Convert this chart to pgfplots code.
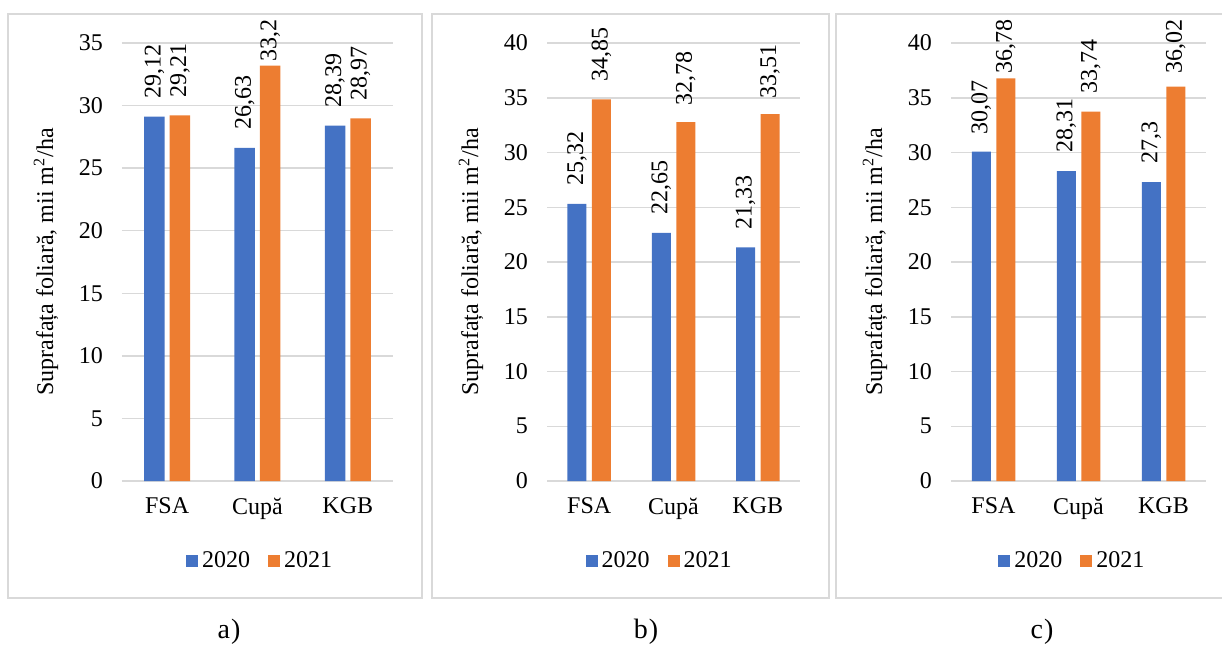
\documentclass[border=0pt]{standalone}
\usepackage{fontspec}
\setmainfont{Liberation Serif}
\usepackage{pgfplots}
\pgfplotsset{compat=1.18}
\usepackage{pgfplotstable}

\definecolor{xblue}{HTML}{4472C4}
\definecolor{xorange}{HTML}{ED7D31}
\definecolor{gridgray}{HTML}{D9D9D9}

% x = category (0 FSA, 1 Cupa, 2 KGB), y = value, gap = label offset in pt
\pgfplotstableread{
x y gap
0 29.12 9
1 26.63 9
2 28.39 9
}\aA
\pgfplotstableread{
x y gap
0 29.21 9
1 33.2 2
2 28.97 9
}\aB
\pgfplotstableread{
x y gap
0 25.32 9
1 22.65 9
2 21.33 9
}\bA
\pgfplotstableread{
x y gap
0 34.85 9
1 32.78 8
2 33.51 7.5
}\bB
\pgfplotstableread{
x y gap
0 30.07 8.5
1 28.31 9
2 27.3 9
}\cA
\pgfplotstableread{
x y gap
0 36.78 2
1 33.74 9
2 36.02 6.5
}\cB

\pgfplotsset{
  panel/.style={
    scale only axis, height=219pt, anchor=south west,
    ymin=0, xmin=-0.5, xmax=2.5,
    ybar=2.75pt, bar width=9.5pt,
    xtick={0,1,2}, xticklabels={FSA,Cupă,KGB},
    ytick distance=5,
    ymajorgrids, major grid style={gridgray, line width=0.75pt},
    axis line style={draw=none}, major tick length=0pt,
    tick label style={font=\fontsize{12}{14}\selectfont},
    yticklabel style={xshift=-6pt},
    xticklabel style={yshift=-5pt},
    /pgf/number format/assume math mode=true,
    /pgf/number format/use comma,
    ylabel={Suprafața foliară, mii m\textsuperscript{2}/ha},
    every axis y label/.style={at={(rel axis cs:0,0.5)}, xshift=-38pt,
      rotate=90, anchor=center, font=\fontsize{12}{14}\selectfont},
    nodes near coords,
    visualization depends on={\thisrow{gap}\as\gap},
    every node near coord/.append style={rotate=90, anchor=west,
      inner xsep=\gap pt, text=black, font=\fontsize{12}{14}\selectfont},
    legend columns=2,
    legend style={draw=none, fill=none, anchor=center,
      font=\fontsize{12}{14}\selectfont,
      /tikz/every even column/.append style={column sep=7pt}},
  },
  sqlegend/.style={
    legend image code/.code={\fill[##1] (0pt,-3pt) rectangle (6pt,3pt);},
  },
  s2020/.style={fill=xblue, draw=none},
  s2021/.style={fill=xorange, draw=none},
}

\begin{document}
\begin{tikzpicture}
\path[use as bounding box] (0,0) rectangle (611pt,-323.5pt);

% panel frames
\draw[gridgray, line width=0.75pt] (4pt,-7pt) rectangle (211pt,-299pt);
\draw[gridgray, line width=0.75pt] (216pt,-7pt) rectangle (414.5pt,-299pt);
\draw[gridgray, line width=0.75pt] (612pt,-7pt) -- (418pt,-7pt) -- (418pt,-299pt) -- (612pt,-299pt);

% a)
\begin{axis}[panel, at={(61pt,-240.5pt)}, width=135.5pt, ymax=35,
  bar width=10.25pt, ybar=2.5pt, sqlegend,
  legend style={at={(0.513,-0.183)}}]
\addplot[s2020] table[x=x,y=y] {\aA};
\addplot[s2021] table[x=x,y=y] {\aB};
\legend{2020,2021}
\end{axis}

% b)
\begin{axis}[panel, at={(273.5pt,-240.5pt)}, width=126.5pt, ymax=40, sqlegend,
  legend style={at={(0.449,-0.183)}}]
\addplot[s2020] table[x=x,y=y] {\bA};
\addplot[s2021] table[x=x,y=y] {\bB};
\legend{2020,2021}
\end{axis}

% c)
\begin{axis}[panel, at={(475.5pt,-240.5pt)}, width=127.5pt, ymax=40, sqlegend,
  legend style={at={(0.48,-0.183)}}]
\addplot[s2020] table[x=x,y=y] {\cA};
\addplot[s2021] table[x=x,y=y] {\cB};
\legend{2020,2021}
\end{axis}

\node[font=\fontsize{14}{16}\selectfont, anchor=base] at (114.5pt,-319pt) {a\kern0.5pt)};
\node[font=\fontsize{14}{16}\selectfont, anchor=base] at (323pt,-319pt) {b\kern0.5pt)};
\node[font=\fontsize{14}{16}\selectfont, anchor=base] at (521pt,-319pt) {c\kern0.5pt)};
\end{tikzpicture}
\end{document}
